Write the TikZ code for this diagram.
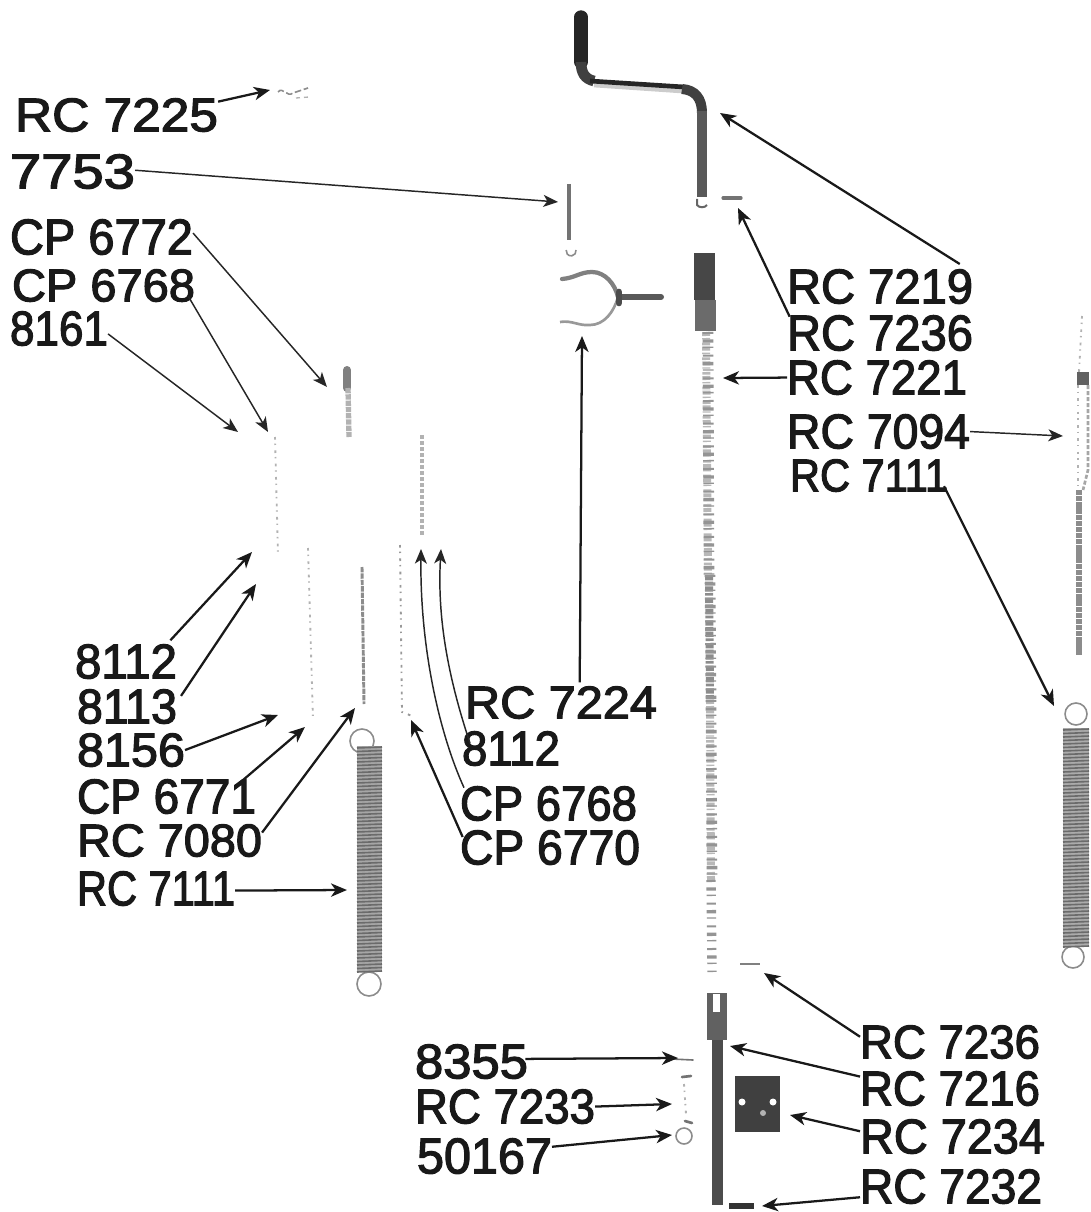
\documentclass[tikz,border=0pt]{standalone}
\usepackage{fontspec}
\usepackage{graphicx}
\setmainfont{Liberation Sans}
\newfontfamily\labf[FakeBold=2.5]{Liberation Sans}
\usetikzlibrary{arrows.meta}
\newcommand\wtxt[3]{\resizebox{#1\dimexpr0.75pt\relax}{\numexpr#2-3\relax\dimexpr0.75pt\relax}{\labf #3}}
\tikzset{
 lab/.style={inner sep=0pt,outer sep=0pt,anchor=north west,text=black!90,yshift=-1pt},
 arr/.style={line width=1.7pt,draw=black!90,-{Stealth[length=12pt,width=10pt,inset=3.5pt]}},
 thin arr/.style={line width=1.1pt,draw=black!85,-{Stealth[length=11pt,width=9pt,inset=3pt]}},
 mid/.style={draw=black!55,line cap=round},
 faint/.style={draw=black!30,line width=1.4pt,dash pattern=on 2pt off 3pt on 1pt off 4pt},
 speckA/.style={draw=black!28,dash pattern=on 3pt off 1.5pt on 1pt off 2.5pt on 2pt off 1pt},
 speckB/.style={draw=black!42,dash pattern=on 1.5pt off 4pt on 2.5pt off 3pt on 1pt off 5pt},
 coil/.style={draw=black!58,line width=1.2pt},
 ring/.style={draw=black!45,line width=1.2pt},
}
\begin{document}
\begin{tikzpicture}[x=0.75pt,y=-0.75pt]
\useasboundingbox (0,0) rectangle (1090,1212);
% labels
\node[lab] (a1) at (15,97) {\wtxt{203}{36}{RC 7225}};
\node[lab] (a2) at (10,153) {\wtxt{125}{37}{7753}};
\node[lab] (a3) at (10,218) {\wtxt{183}{38}{CP 6772}};
\node[lab] (a4) at (12,268) {\wtxt{183}{35}{CP 6768}};
\node[lab] (a5) at (10,310) {\wtxt{98}{37}{8161}};
\node[lab] (b1) at (787,268) {\wtxt{186}{37}{RC 7219}};
\node[lab] (b2) at (787,314) {\wtxt{186}{38}{RC 7236}};
\node[lab] (b3) at (787,359) {\wtxt{180}{37}{RC 7221}};
\node[lab] (b4) at (787,413) {\wtxt{183}{37}{RC 7094}};
\node[lab] (b5) at (790,458) {\wtxt{158}{35}{RC 7111}};
\node[lab] (c1) at (75,643) {\wtxt{102}{37}{8112}};
\node[lab] (c2) at (77,688) {\wtxt{100}{37}{8113}};
\node[lab] (c3) at (77,732) {\wtxt{108}{36}{8156}};
\node[lab] (c4) at (77,778) {\wtxt{179}{37}{CP 6771}};
\node[lab] (c5) at (77,823) {\wtxt{185}{35}{RC 7080}};
\node[lab] (c6) at (77,870) {\wtxt{158}{37}{RC 7111}};
\node[lab] (d1) at (465,685) {\wtxt{192}{35}{RC 7224}};
\node[lab] (d2) at (462,730) {\wtxt{98}{37}{8112}};
\node[lab] (d3) at (460,785) {\wtxt{177}{37}{CP 6768}};
\node[lab] (d4) at (460,829) {\wtxt{180}{37}{CP 6770}};
\node[lab] (e1) at (415,1043) {\wtxt{113}{37}{8355}};
\node[lab] (e2) at (415,1088) {\wtxt{180}{37}{RC 7233}};
\node[lab] (e3) at (417,1137) {\wtxt{135}{38}{50167}};
\node[lab] (f1) at (860,1024) {\wtxt{180}{36}{RC 7236}};
\node[lab] (f2) at (860,1070) {\wtxt{180}{37}{RC 7216}};
\node[lab] (f3) at (860,1118) {\wtxt{185}{37}{RC 7234}};
\node[lab] (f4) at (860,1168) {\wtxt{182}{37}{RC 7232}};
% squiggle
\draw[draw=black!45,line width=1.2pt,dash pattern=on 5pt off 2pt] (278,92) .. controls (283,86) and (287,98) .. (293,93) -- (308,88);
\draw[draw=black!30,line width=1pt,dash pattern=on 3pt off 3pt] (296,98) -- (309,97);
% crank
\draw[draw=black!85,line width=10pt,line cap=round] (581,17) -- (581,62);
\draw[draw=black!75,line width=8pt,line cap=butt] (581,62) .. controls (581,73) and (585,79) .. (594,81);
\draw[draw=black!20,line width=3.5pt,line cap=butt] (594,85) -- (682,91);
\draw[draw=black!85,line width=3.5pt,line cap=butt] (590,81) -- (684,87);
\draw[draw=black!75,line width=7.5pt,line cap=butt] (682,89) .. controls (695,90) and (702,98) .. (702,113);
\draw[draw=black!65,line width=8pt,line cap=butt] (702,111) -- (702,197);
\draw[ring,draw=black!60,line width=1.5pt] (697,199) -- (697,205) .. controls (699,208) and (705,208) .. (707,205);
\draw[mid,line width=2.4pt] (723,198) -- (741,198);
% pin and clip
\draw[mid,line width=3.5pt,line cap=butt] (569,184) -- (569,240);
\draw[ring] (576,250) arc (-10:190:5);
\draw[draw=black!50,line width=3.2pt,line cap=round] (562,279) .. controls (575,278) and (580,272) .. (592,272) .. controls (605,272) and (615,284) .. (618,297);
\draw[draw=black!40,line width=2pt] (560,322) .. controls (572,320) and (578,326) .. (590,325) .. controls (604,325) and (614,312) .. (618,297);
\draw[draw=black!65,line width=4.5pt,line cap=round] (620,297) -- (661,297);
\draw[draw=black!70,line width=5pt,line cap=round] (619,292) -- (619,303);
% long rod
\fill[black!72] (694,253) rectangle (715,300);
\fill[black!58] (695,300) rectangle (716,331);
\draw[speckA,line width=6pt] (706,332) -- (708,575);
\draw[speckB,line width=8pt] (708,332) -- (709,575);
\draw[draw=black!45,line width=6pt,dash pattern=on 4pt off 1pt on 2pt off 1.5pt] (709,575) -- (710,700);
\draw[speckB,line width=8pt] (710,575) -- (711,700);
\draw[speckA,line width=6pt] (710,700) -- (711,880);
\draw[speckB,line width=8pt] (711,700) -- (712,880);
\draw[speckB,line width=7pt] (711,880) -- (712,972);
\draw[draw=black!50,line width=2.2pt] (740,964) -- (760,964);
% fork and lower rod
\fill[black!62] (707,993) rectangle (727,1040);
\fill[white] (713,994) rectangle (720,1012);
\fill[black!70] (712,1040) rectangle (723,1205);
\fill[white] (717,1205) rectangle (723,1212);
\draw[draw=black!80,line width=4pt,line cap=butt] (729,1206) -- (754,1206);
\fill[black!75] (735,1076) rectangle (780,1132);
\fill[white] (742,1102) circle (3.5) (773,1102) circle (3.5);
\fill[black!30] (763,1113) circle (3);
% small parts
\draw[mid,line width=1.2pt] (672,1059) -- (693,1060);
\draw[mid,line width=2pt] (682,1077) -- (691,1076);
\draw[faint] (684,1084) -- (686,1114);
\draw[mid,line width=2pt] (685,1121) -- (692,1123);
\draw[ring] (684,1136) circle (8);
% left parts
\draw[draw=black!50,line width=6pt,line cap=round] (347,370) -- (347,388);
\draw[draw=black!30,line width=4pt,dash pattern=on 4pt off .7pt] (348,388) -- (349,437);
\draw[faint] (275,437) -- (278,555);
\draw[faint] (308,548) -- (313,720);
\draw[draw=black!45,line width=2.2pt,dash pattern=on 4pt off .8pt] (362,567) -- (364,704);
\draw[faint,draw=black!40] (400,545) -- (402,712) -- (412,716);
\draw[draw=black!30,line width=3pt,dash pattern=on 3pt off 1.5pt] (422,435) -- (422,536);
% springs
\draw[ring] (362,741) circle (12);
\draw[ring] (369,984) circle (12);
\fill[black!35] (357,746) rectangle (382,972);
\foreach \y in {748,751.5,...,972} \draw[coil] (357,\y) -- (382,\y-1);
\draw[ring] (1076,714) circle (11);
\draw[ring] (1073,957) circle (11);
\fill[black!33] (1063,728) rectangle (1089,947);
\foreach \y in {730,733.5,...,947} \draw[coil] (1063,\y) -- (1089,\y-1);
% right rod
\draw[faint] (1082,316) -- (1079,372);
\fill[black!62] (1077,372) rectangle (1089,385);
\draw[faint] (1078,385) -- (1078,490);
\draw[draw=black!35,line width=2pt,dash pattern=on 3pt off 1.5pt] (1088,385) -- (1088,470) -- (1083,490);
\draw[draw=black!45,line width=5pt,dash pattern=on 4pt off .6pt] (1079,490) -- (1079,655);
% connector ends
\coordinate (t1) at (270,90);
\coordinate (t2) at (558,202);
\coordinate (t3) at (327,387);
\coordinate (t4) at (268,432);
\coordinate (t5) at (238,432);
\coordinate (u1) at (720,113);
\coordinate (u2) at (738,208);
\coordinate (u3) at (723,378);
\coordinate (u4) at (1063,436);
\coordinate (u5) at (1054,706);
\coordinate (v1) at (252,552);
\coordinate (v2) at (256,584);
\coordinate (v3) at (278,715);
\coordinate (v4) at (305,727);
\coordinate (v5) at (355,708);
\coordinate (v6) at (347,890);
\coordinate (w1) at (582,336);
\coordinate (w2) at (441,549);
\coordinate (w3) at (421,549);
\coordinate (w4) at (411,720);
\coordinate (x1) at (678,1058);
\coordinate (x2) at (672,1104);
\coordinate (x3) at (672,1135);
\coordinate (y1) at (764,973);
\coordinate (y2) at (730,1046);
\coordinate (y3) at (790,1115);
\coordinate (y4) at (762,1206);
% connectors
\draw[arr] ([yshift=-2.5pt]a1.north east) -- (t1);
\draw[thin arr] ([yshift=1pt]a2.east) -- (t2);
\draw[thin arr] ([yshift=3pt]a3.east) -- (t3);
\draw[thin arr] ([xshift=-5pt,yshift=4pt]a4.south east) -- (t4);
\draw[thin arr] ([yshift=-4pt]a5.east) -- (t5);
\draw[arr] ([xshift=-10pt,yshift=4pt]b1.north east) -- (u1);
\draw[arr] ([xshift=2pt,yshift=-1pt]b2.north west) -- (u2);
\draw[arr] (b3.west) -- (u3);
\draw[thin arr] (b4.east) -- (u4);
\draw[arr] ([xshift=-3pt,yshift=-8pt]b5.east) -- (u5);
\draw[arr] ([xshift=-5pt,yshift=3pt]c1.north east) -- (v1);
\draw[arr] ([xshift=3pt,yshift=8pt]c2.east) -- (v2);
\draw[arr] (c3.east) -- (v3);
\draw[arr] ([xshift=-15pt,yshift=-5pt]c4.north east) -- (v4);
\draw[arr] ([yshift=6pt]c5.east) -- (v5);
\draw[arr] ([yshift=-1.5pt]c6.east) -- (v6);
\draw[arr] ([xshift=14pt,yshift=3pt]d1.north) -- (w1);
\draw[thin arr] ([xshift=6pt,yshift=4pt]d2.west) .. controls (449,680) and (437,620) .. (w2);
\draw[thin arr] ([xshift=3pt,yshift=-1pt]d3.north west) .. controls (440,735) and (420,650) .. (w3);
\draw[arr] ([xshift=2pt,yshift=-5pt]d4.north west) -- (w4);
\draw[arr] ([xshift=-2pt,yshift=2pt]e1.east) -- (x1);
\draw[arr] (e2.east) -- (x2);
\draw[arr] ([yshift=7pt]e3.east) -- (x3);
\draw[arr] ([yshift=4pt]f1.west) -- (y1);
\draw[arr] ([yshift=9pt]f2.west) -- (y2);
\draw[arr] ([yshift=4pt]f3.west) -- (y3);
\draw[arr] ([yshift=-8pt]f4.west) -- (y4);
\end{tikzpicture}
\end{document}
